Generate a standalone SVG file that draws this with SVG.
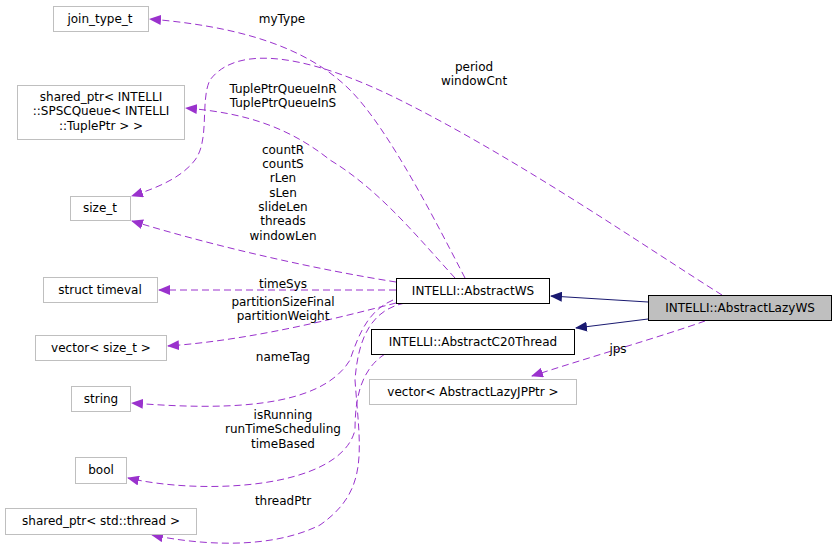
<svg xmlns="http://www.w3.org/2000/svg" width="836" height="551" viewBox="0 0 836 551">
<defs>
<style>
text{font-family:"DejaVu Sans",sans-serif;font-size:12px;fill:#000;text-anchor:middle}
.g rect{fill:#fff;stroke:#bfbfbf}
.b rect{fill:#fff;stroke:#000}
.d{fill:none;stroke:#9a32cd;stroke-dasharray:7,4}
.s{fill:none;stroke:#191970}
</style>
<marker id="ap" markerWidth="12" markerHeight="10" refX="11" refY="5" orient="auto" markerUnits="userSpaceOnUse"><path d="M0,0L12,5L0,10z" fill="#9a32cd"/></marker>
<marker id="an" markerWidth="12" markerHeight="10" refX="11" refY="5" orient="auto" markerUnits="userSpaceOnUse"><path d="M0,0L12,5L0,10z" fill="#191970"/></marker>
</defs>
<rect width="836" height="551" fill="#fff"/>
<g id="edges">
<path class="s" d="M648,302L551,296" marker-end="url(#an)"/>
<path class="s" d="M648,319L576,328" marker-end="url(#an)"/>
<path class="d" d="M705,321C660,337 590,357 532,376" marker-end="url(#ap)"/>
<text x="618" y="353">jps</text>
<path class="d" d="M722,295C650,250 520,160 400,100C320,60 240,40 210,80C200,100 210,140 195,160C180,180 150,190 132,196" marker-end="url(#ap)"/>
<text x="474" y="71">period</text><text x="474" y="85">windowCnt</text>
<path class="d" d="M465,278C440,230 390,130 350,90C300,40 220,25 150,19" marker-end="url(#ap)"/>
<text x="282" y="23">myType</text>
<path class="d" d="M455,278C420,240 380,190 330,160C280,120 230,112 186,108" marker-end="url(#ap)"/>
<text x="283" y="93">TuplePtrQueueInR</text><text x="283" y="107">TuplePtrQueueInS</text>
<path class="d" d="M396,282C320,270 220,248 132,221" marker-end="url(#ap)"/>
<text x="283" y="154">countR</text><text x="283" y="168">countS</text><text x="283" y="182">rLen</text><text x="283" y="197">sLen</text><text x="283" y="211">slideLen</text><text x="283" y="225">threads</text><text x="283" y="240">windowLen</text>
<path class="d" d="M396,290L159,290" marker-end="url(#ap)"/>
<text x="283" y="288">timeSys</text>
<path class="d" d="M396,303C330,320 250,340 168,346" marker-end="url(#ap)"/>
<text x="283" y="306">partitionSizeFinal</text><text x="283" y="320">partitionWeight</text>
<path class="d" d="M393,300C370,310 360,330 350,360C320,410 220,410 132,403" marker-end="url(#ap)"/>
<text x="283" y="361">nameTag</text>
<path class="d" d="M385,354C360,370 355,400 355,430C340,490 200,495 128,478" marker-end="url(#ap)"/>
<text x="283" y="419">isRunning</text><text x="283" y="433">runTimeScheduling</text><text x="283" y="448">timeBased</text>
<path class="d" d="M405,303C370,310 358,340 355,380C360,450 370,490 320,525C270,550 200,545 152,535" marker-end="url(#ap)"/>
<text x="283" y="505">threadPtr</text>
</g>
<g id="join_type_t" class="g"><rect x="53.5" y="6.5" width="95" height="25"/><text x="100" y="23">join_type_t</text></g>
<g id="spsc" class="g"><rect x="17.5" y="85.5" width="167" height="54"/><text x="101" y="101">shared_ptr&lt; INTELLI</text><text x="101" y="115">::SPSCQueue&lt; INTELLI</text><text x="101" y="130">::TuplePtr &gt; &gt;</text></g>
<g id="size_t" class="g"><rect x="70.5" y="196.5" width="60" height="24"/><text x="100" y="212">size_t</text></g>
<g id="timeval" class="g"><rect x="43.5" y="277.5" width="114" height="25"/><text x="100" y="294">struct timeval</text></g>
<g id="vector_size_t" class="g"><rect x="35.5" y="335.5" width="131" height="25"/><text x="101" y="352">vector&lt; size_t &gt;</text></g>
<g id="string" class="g"><rect x="71.5" y="386.5" width="59" height="25"/><text x="101" y="403">string</text></g>
<g id="bool" class="g"><rect x="75.5" y="457.5" width="51" height="26"/><text x="101" y="474">bool</text></g>
<g id="thread" class="g"><rect x="5.5" y="508.5" width="191" height="26"/><text x="101" y="525">shared_ptr&lt; std::thread &gt;</text></g>
<g id="AbstractWS" class="b"><rect x="396.5" y="278.5" width="153" height="25"/><text x="473" y="295">INTELLI::AbstractWS</text></g>
<g id="AbstractC20Thread" class="b"><rect x="371.5" y="329.5" width="203" height="25"/><text x="473" y="346">INTELLI::AbstractC20Thread</text></g>
<g id="vector_jp" class="g"><rect x="369.5" y="379.5" width="207" height="25"/><text x="473" y="396">vector&lt; AbstractLazyJPPtr &gt;</text></g>
<g id="AbstractLazyWS"><rect x="648.5" y="295.5" width="183" height="25" fill="#bfbfbf" stroke="#000"/><text x="740" y="312">INTELLI::AbstractLazyWS</text></g>
</svg>
